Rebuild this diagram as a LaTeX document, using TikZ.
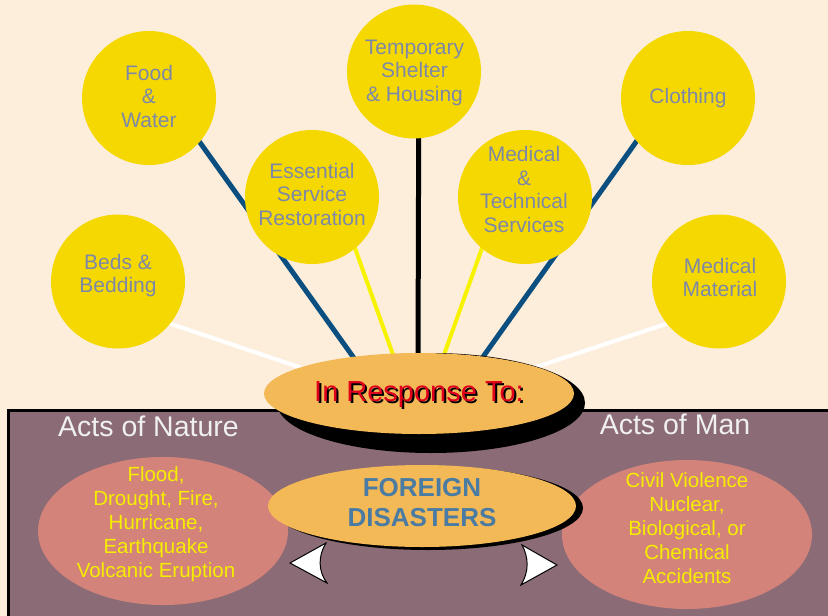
\documentclass[tikz,border=0pt]{standalone}
\usepackage{fontspec}
\setmainfont{Liberation Sans}
\usetikzlibrary{shapes.geometric}
\pgfdeclarelayer{background}
\pgfsetlayers{background,main}
\definecolor{cream}{HTML}{FDEEDB}
\definecolor{plum}{HTML}{8B6B76}
\definecolor{circyellow}{HTML}{F5D800}
\definecolor{circtext}{HTML}{7D88A8}
\definecolor{lineblue}{HTML}{0B4F80}
\definecolor{lineyellow}{HTML}{F7F300}
\definecolor{orangeell}{HTML}{F4B957}
\definecolor{redtext}{HTML}{E1001B}
\definecolor{foreigntext}{HTML}{4A7BA3}
\definecolor{pinkell}{HTML}{D4837A}
\definecolor{pinktext}{HTML}{F5EE00}
\definecolor{actwhite}{HTML}{F0F0F0}
\begin{document}
\begin{tikzpicture}[x=1pt,y=-1pt,
  bubble/.style={circle, fill=circyellow, minimum size=134pt, inner sep=0pt, outer sep=0pt},
  btext/.style={align=center, text=circtext, font=\fontsize{21}{23.5}\selectfont, inner sep=0pt},
  ptext/.style={align=center, text=pinktext, font=\fontsize{20.5}{23.9}\selectfont, inner sep=0pt},
  acttext/.style={anchor=base, text=actwhite, font=\fontsize{28.5}{30}\selectfont, inner sep=0pt},
  resptext/.style={anchor=base, font=\fontsize{29}{30}\selectfont, inner sep=0pt},
  oval/.style={ellipse, inner sep=0pt, outer sep=0pt},
  blueline/.style={draw=lineblue, line width=5pt, shorten <=-4pt},
  blackline/.style={draw=black, line width=5pt, shorten <=-4pt},
  yellowline/.style={draw=lineyellow, line width=4pt, shorten <=-4pt},
  whiteline/.style={draw=white, line width=4pt, shorten <=-4pt},
  arrowshape/.style={fill=white, draw=black, line width=1pt, line join=miter}]

\useasboundingbox (0,0) rectangle (828,616);

\begin{pgfonlayer}{background}
  \fill[cream] (0,0) rectangle (828,616);
  \fill[plum] (8.5,410) rectangle (828,616);
  \draw[line width=3pt, line join=miter] (8.5,616) -- (8.5,410) -- (828,410);
\end{pgfonlayer}

% bubbles
\node[bubble] (food) at (149,98) {};
\node[bubble] (beds) at (118,281.5) {};
\node[bubble] (ess) at (312,197) {};
\node[bubble] (shelter) at (414,71.5) {};
\node[bubble] (medtech) at (525,197) {};
\node[bubble] (cloth) at (688,98) {};
\node[bubble] (medmat) at (719,281.5) {};

\node[btext] (foodT) at (149,96) {Food\\\&\\Water};
\node[btext] (bedsT) at (118,275.4) {Beds \&\\Bedding};
\node[btext] (essT) at (312,194) {Essential\\Service\\Restoration};
\node[btext] (shelterT) at (414.5,72.7) {Temporary\\Shelter\\\& Housing};
\node[btext] (medtechT) at (524,189.5) {Medical\\\&\\Technical\\Services};
\node[btext] (clothT) at (688,98.5) {Clothing};
\node[btext] (medmatT) at (720,277.3) {Medical\\Material};

% connector end points (hidden under the ellipse)
\coordinate (e1) at (355.7,360.5);
\coordinate (e2) at (394.7,359.5);
\coordinate (e3) at (418,360);
\coordinate (e4) at (442.3,359.5);
\coordinate (e5) at (480.4,360.5);
\coordinate (e6) at (302.5,368.2);
\coordinate (e7) at (532.5,368.2);

\begin{pgfonlayer}{background}
  \draw[blueline] (food.-41.3) -- (e1);
  \draw[yellowline] (ess.-50) -- (e2);
  \draw[blackline] (shelter.-86.6) -- (e3);
  \draw[yellowline] (medtech.-130) -- (e4);
  \draw[blueline] (cloth.-140) -- (e5);
  \draw[whiteline] (beds.-39) -- (e6);
  \draw[whiteline] (medmat.-141) -- (e7);
\end{pgfonlayer}

% In Response To
\node[oval, fill=black, minimum width=308pt, minimum height=100pt] (respShadow) at (431,403) {};
\node[oval, fill=orangeell, minimum width=310pt, minimum height=81pt] (resp) at (419,393.5) {};
\node[resptext, text=black] (respTS) at (421,403) {In Response To:};
\node[resptext, text=redtext] (respT) at (419,401) {In Response To:};

% Acts labels
\node[acttext] (actsN) at (148.5,436) {Acts of Nature};
\node[acttext] (actsM) at (675,434.3) {Acts of Man};

% pink ellipses
\node[oval, fill=pinkell, minimum width=250pt, minimum height=148pt] (nature) at (163,531) {};
\node[oval, fill=pinkell, minimum width=250pt, minimum height=149pt] (man) at (687,534.5) {};
\node[ptext] (natureT) at (156,524) {Flood,\\Drought, Fire,\\Hurricane,\\Earthquake\\Volcanic Eruption};
\node[ptext] (manT) at (687,528.3) {Civil Violence\\Nuclear,\\Biological, or\\Chemical\\Accidents};

% Foreign disasters
\node[oval, fill=black, minimum width=310pt, minimum height=84pt] (forShadow) at (428,508) {};
\node[oval, fill=orangeell, minimum width=308pt, minimum height=82pt] (foreign) at (422,506) {};
\node[align=center, text=foreigntext, font=\bfseries\fontsize{26}{30}\selectfont, inner sep=0pt] (foreignT) at (422,502.5) {FOREIGN\\DISASTERS};

% arrowheads
\draw[arrowshape] (290,563) -- (326,543) .. controls (318,556) and (318,571) .. (327,583) -- cycle;
\draw[arrowshape] (557,565) -- (522,545) .. controls (529,558) and (529,572) .. (521,585) -- cycle;

\end{tikzpicture}
\end{document}
